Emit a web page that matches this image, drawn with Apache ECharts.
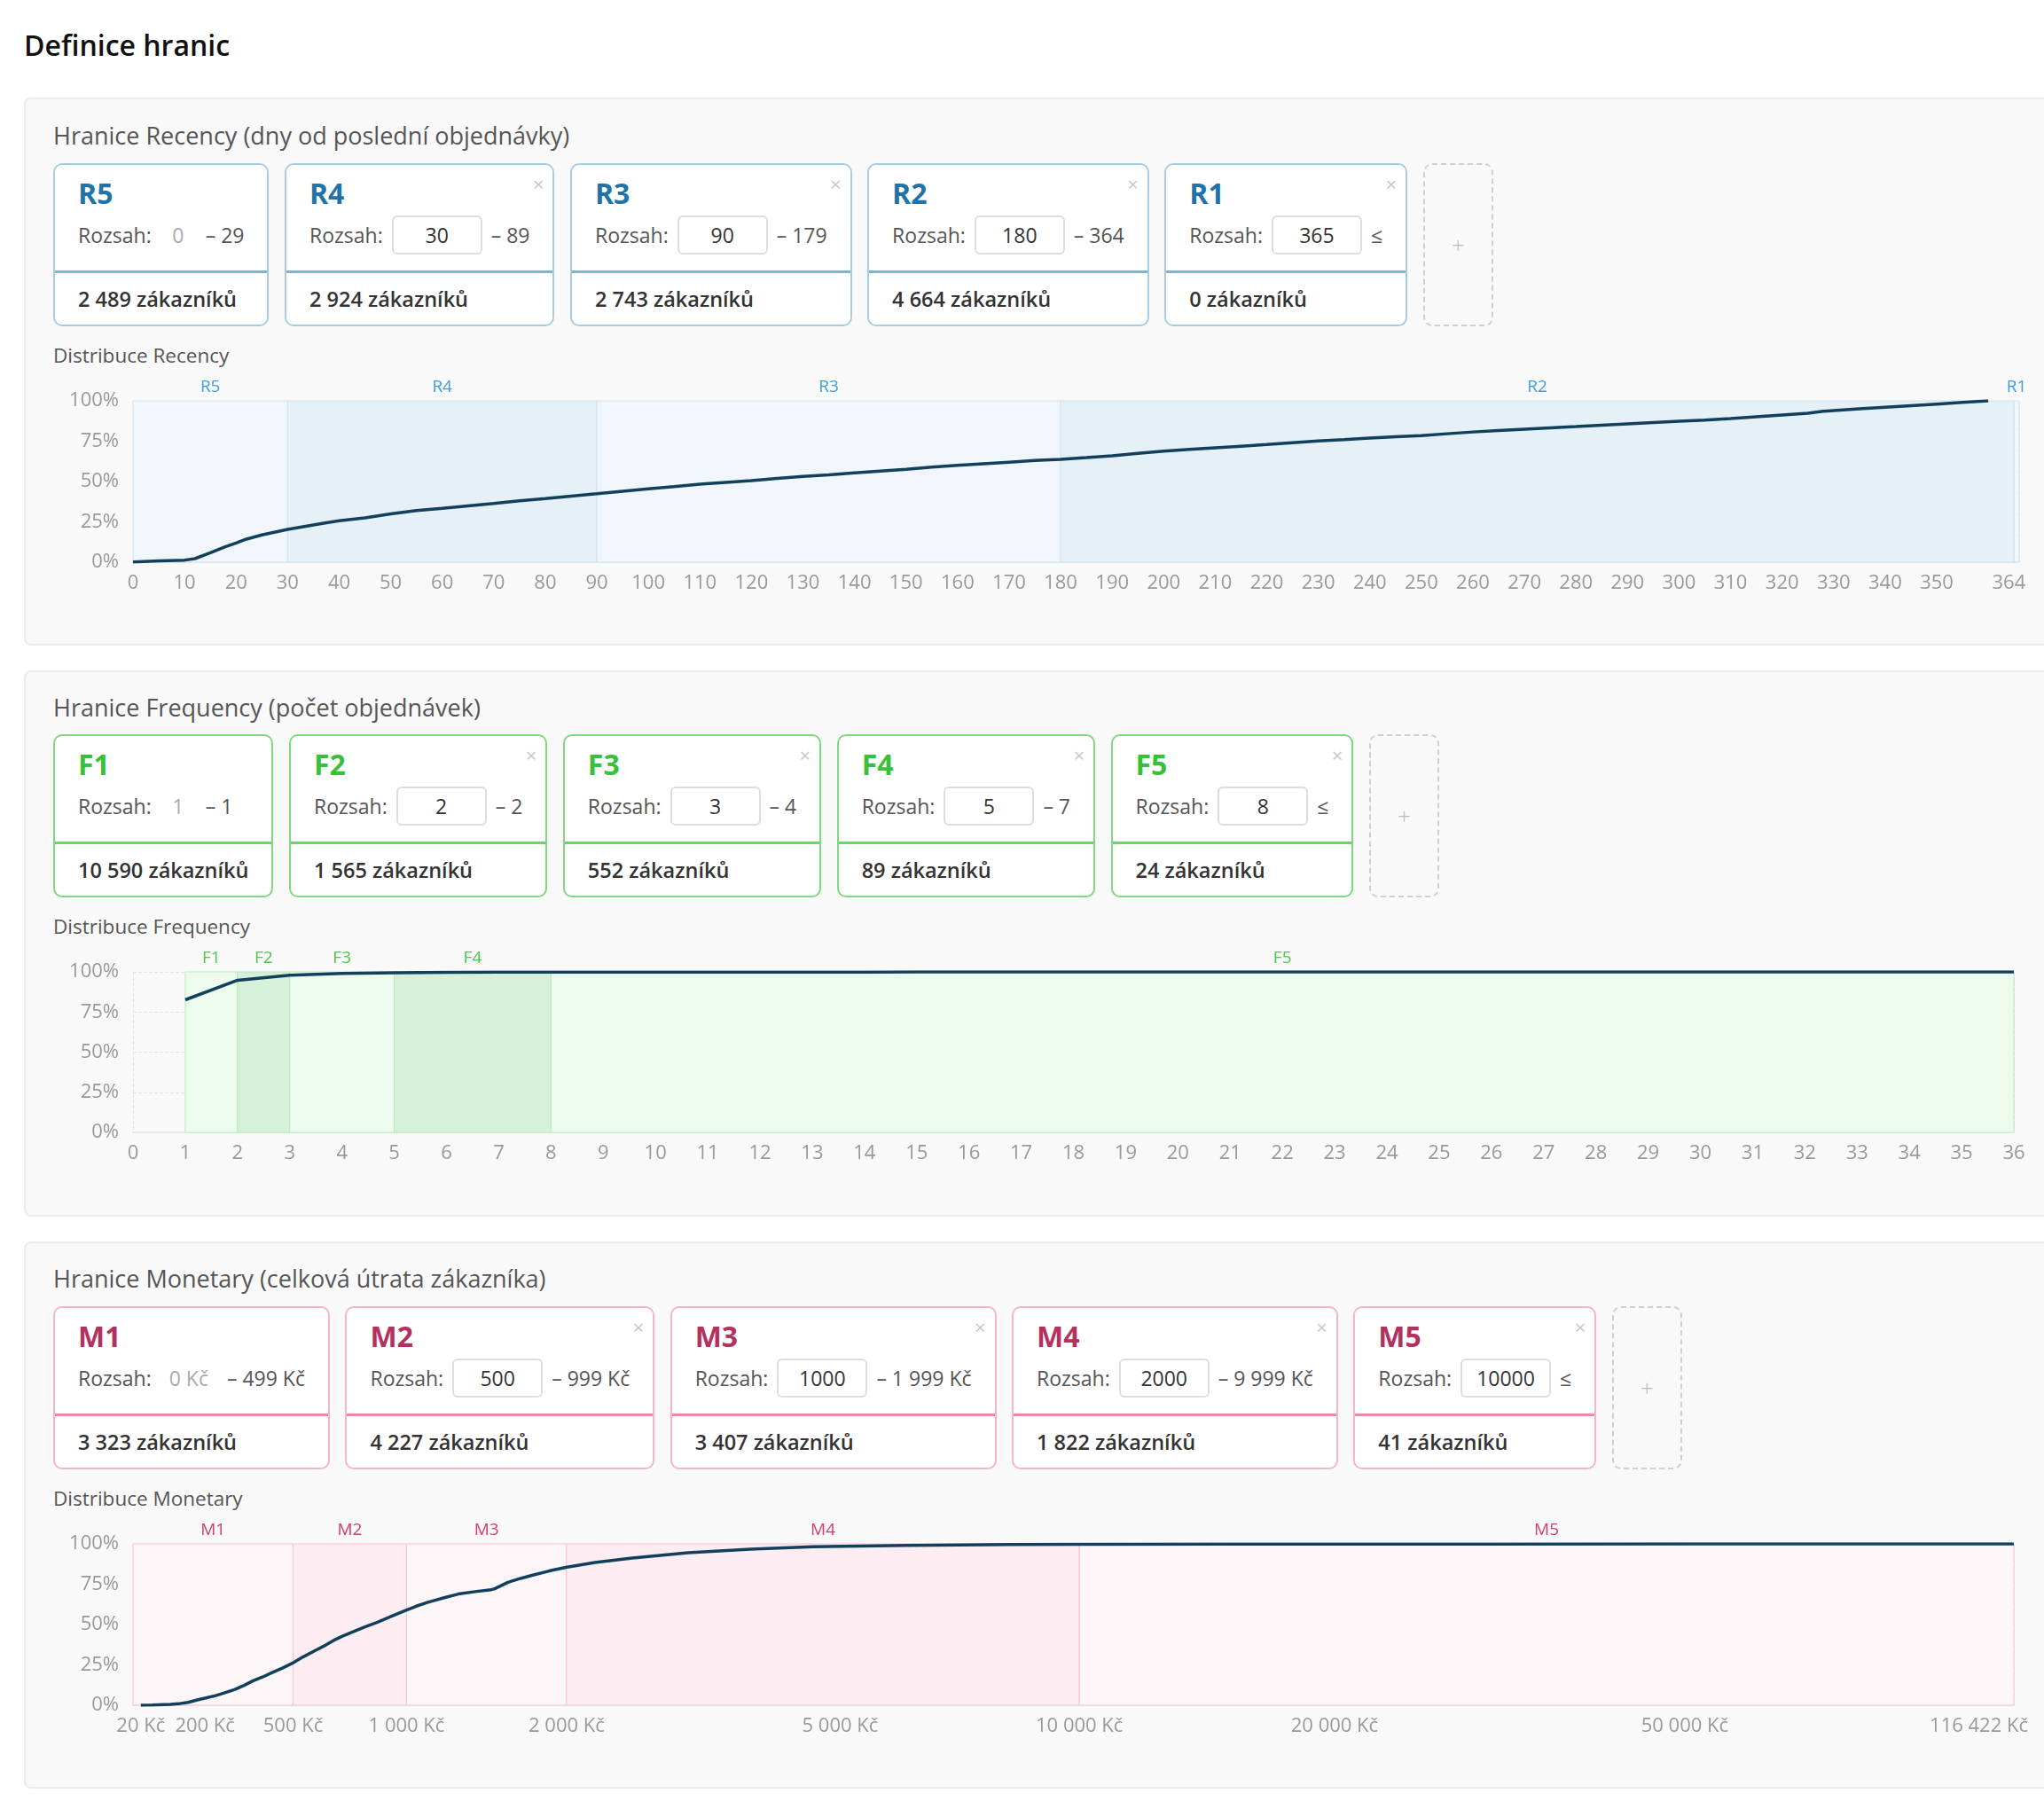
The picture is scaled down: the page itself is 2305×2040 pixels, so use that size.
<!DOCTYPE html>
<html>
<head>
<meta charset="utf-8">
<title>Definice hranic</title>
<script src="https://cdn.jsdelivr.net/npm/echarts@6/dist/echarts.min.js"></script>
<style>
	html, body { margin: 0; padding: 0; }
	body {
		position: relative;
		width: 2305px;
		height: 2040px;
		overflow: hidden;
		background: #fff;
		font-family: 'Open Sans', sans-serif;
	}
	.page-title {
		position: absolute; left: 27px; top: 30px; margin: 0;
		font-size: 32px; font-weight: 600; line-height: 42px; color: #111;
	}
	.panel {
		position: absolute; left: 27px; width: 2320px;
		background: #f9f9f9; border: 2px solid #ececec; border-radius: 8px;
		box-sizing: border-box;
	}
	.heading {
		position: absolute; left: 60px;
		font-size: 27px; line-height: 34px; color: #555;
	}
	.dist {
		position: absolute; left: 60px;
		font-size: 22.5px; line-height: 26px; color: #555;
	}
	.cards {
		position: absolute; left: 60px;
		display: flex; gap: 17.5px;
	}
	.card {
		position: relative;
		box-sizing: border-box; height: 184px;
		border: 2px solid; border-radius: 10px; background: #fff;
		display: flex; flex-direction: column;
	}
	.card .top { height: 119px; padding: 12px 26px 0; box-sizing: border-box; }
	.card .name { font-size: 32px; font-weight: 700; line-height: 40px; }
	.card .row {
		margin-top: 5px; height: 44px; display: flex; align-items: center;
		white-space: nowrap; font-size: 23px; color: #555;
	}
	.card .lo { color: #aaa; margin-left: 20px; min-width: 20px; text-align: center; }
	.card .hi { margin-left: 21px; }
	.card .inp {
		margin-left: 10px; width: 102px; height: 44px; box-sizing: border-box;
		border: 2px solid #ddd; border-radius: 6px; background: #fff;
		text-align: center; line-height: 40px; color: #333;
	}
	.card .hi2 { margin-left: 10px; }
	.card .line { height: 3px; }
	.card .bottom {
		height: 58px; line-height: 58px; padding: 0 26px;
		font-size: 23.5px; font-weight: 600; color: #333; white-space: nowrap;
	}
	.card .x {
		position: absolute; top: 6px; right: 10px;
		font-size: 22px; color: #c8c8c8; line-height: 30px;
	}
	.plus {
		box-sizing: border-box; width: 79px; height: 184px;
		border: 2px dashed #cfcfcf; border-radius: 10px;
		display: flex; align-items: center; justify-content: center;
		font-size: 26px; color: #bbb; font-weight: 300;
	}
	.chart { position: absolute; left: 0; width: 2305px; }
</style>
</head>
<body>

<h1 class="page-title">Definice hranic</h1>

<div class="panel" style="top:110px;height:618px"></div>
<div class="heading" style="top:136px">Hranice Recency (dny od poslední objednávky)</div>
<div class="cards" id="cards-r" style="top:184px"></div>
<div class="dist" style="top:388px">Distribuce Recency</div>
<div class="chart" id="chart-r" style="top:400px;height:290px"></div>

<div class="panel" style="top:756px;height:616px"></div>
<div class="heading" style="top:781px">Hranice Frequency (počet objednávek)</div>
<div class="cards" id="cards-f" style="top:828px"></div>
<div class="dist" style="top:1032px">Distribuce Frequency</div>
<div class="chart" id="chart-f" style="top:1044px;height:290px"></div>

<div class="panel" style="top:1400px;height:617px"></div>
<div class="heading" style="top:1425px">Hranice Monetary (celková útrata zákazníka)</div>
<div class="cards" id="cards-m" style="top:1473px"></div>
<div class="dist" style="top:1677px">Distribuce Monetary</div>
<div class="chart" id="chart-m" style="top:1689px;height:290px"></div>

<script>
	// ---- Recency (dny od poslední objednávky) ----
	var recencyNames = ['R5', 'R4', 'R3', 'R2', 'R1'];
	var recencyLo = [0, 30, 90, 180, 365];
	var recencyHi = [29, 89, 179, 364, null];
	var recencyCounts = [2489, 2924, 2743, 4664, 0];
	var recencyBounds = [0, 30, 90, 180, 365, 366];
	var recencyTicks = [0, 10, 20, 30, 40, 50, 60, 70, 80, 90, 100, 110, 120, 130, 140, 150, 160, 170,
		180, 190, 200, 210, 220, 230, 240, 250, 260, 270, 280, 290, 300, 310, 320, 330, 340, 350, 364];
	var recencyDays = [0, 5, 10, 12, 15, 18, 20, 22, 25, 28, 30, 33, 37, 40, 45, 50, 55, 60, 65, 70, 75,
		80, 85, 90, 95, 100, 105, 110, 115, 120, 125, 130, 135, 140, 145, 150, 155, 160, 165, 170, 175,
		180, 185, 190, 195, 200, 205, 210, 215, 220, 225, 230, 235, 240, 245, 250, 255, 260, 265, 270,
		275, 280, 285, 290, 295, 300, 305, 310, 315, 320, 325, 328, 330, 335, 340, 345, 350, 355, 360];
	var recencyPct = [0.2, 0.8, 1.3, 2.2, 5.9, 9.7, 11.9, 14.3, 16.9, 19.0, 20.3, 22.0, 24.2, 25.7, 27.5,
		29.9, 32.0, 33.4, 34.9, 36.4, 38.0, 39.4, 40.9, 42.4, 44.0, 45.5, 46.8, 48.3, 49.5, 50.6, 51.9,
		53.1, 54.1, 55.4, 56.5, 57.6, 58.9, 60.0, 61.0, 62.0, 63.0, 63.8, 64.8, 65.9, 67.5, 68.8, 69.9,
		70.9, 71.9, 72.9, 74.1, 75.2, 76.0, 76.9, 77.7, 78.5, 79.6, 80.7, 81.6, 82.4, 83.2, 84.0, 84.9,
		85.7, 86.5, 87.3, 88.1, 89.0, 90.1, 91.2, 92.3, 93.6, 94.0, 95.0, 96.0, 97.0, 98.0, 99.0, 100];

	// ---- Frequency (počet objednávek) ----
	var freqNames = ['F1', 'F2', 'F3', 'F4', 'F5'];
	var freqLo = [1, 2, 3, 5, 8];
	var freqHi = [1, 2, 4, 7, null];
	var freqCounts = [10590, 1565, 552, 89, 24];
	var freqBounds = [1, 2, 3, 5, 8, 36];
	var freqOrders = [1, 2, 3, 4, 5, 6, 7, 8, 9, 10, 11, 12, 13, 14, 15, 16, 17, 18,
		19, 20, 21, 22, 23, 24, 25, 26, 27, 28, 29, 30, 31, 32, 33, 34, 35, 36];
	var freqPct = [82.6, 94.8, 97.9, 99.1, 99.5, 99.7, 99.8, 99.82, 99.85, 99.88, 99.9, 99.91, 99.92,
		99.93, 99.94, 99.95, 99.95, 99.96, 99.96, 99.97, 99.97, 99.97, 99.98, 99.98, 99.98, 99.98,
		99.99, 99.99, 99.99, 99.99, 99.99, 99.99, 100, 100, 100, 100];

	// ---- Monetary (celková útrata, Kč) ----
	var moneyNames = ['M1', 'M2', 'M3', 'M4', 'M5'];
	var moneyLo = [0, 500, 1000, 2000, 10000];
	var moneyHi = [499, 999, 1999, 9999, null];
	var moneyCounts = [3323, 4227, 3407, 1822, 41];
	var moneyBounds = [0, 500, 1000, 2000, 10000, 116422];
	var moneyTicks = [20, 200, 500, 1000, 2000, 5000, 10000, 20000, 50000, 116422];
	var moneyValues = [20, 50, 100, 122, 150, 177, 200, 233, 260, 293, 325, 356, 390, 421, 460, 497,
		538, 587, 630, 664, 700, 744, 800, 858, 930, 1000, 1050, 1107, 1200, 1280, 1380, 1478, 1500,
		1586, 1670, 1754, 1870, 1994, 2224, 2543, 3083, 3780, 4595, 6087, 8232, 10000, 15000, 20000,
		30000, 50000, 80000, 116422];
	var moneyPct = [0, 0.1, 0.5, 0.9, 1.8, 3.3, 4.4, 6.0, 7.6, 9.7, 12.3, 15.2, 17.6, 20.1, 23.0, 26.0,
		29.9, 33.9, 37.3, 40.3, 42.8, 45.4, 48.6, 51.5, 55.4, 59.0, 61.4, 63.7, 66.6, 68.9, 70.4, 71.6,
		72.2, 76.2, 78.6, 80.6, 83.2, 85.4, 88.5, 91.2, 94.5, 96.7, 98.2, 99.1, 99.6, 99.7, 99.82,
		99.88, 99.93, 99.97, 99.99, 100];

	var themeR = {border: '#a6cde1', line: '#7db4d0', name: '#1f73a7', label: '#3d9fe0',
		light: '#f0f6fb', dark: '#e6f0f7', bandBorder: '#cfe2ed'};
	var themeF = {border: '#80d980', line: '#6bd36b', name: '#38c038', label: '#44cc44',
		light: '#edfbee', dark: '#d5f1d8', bandBorder: '#b9e9bf'};
	var themeM = {border: '#f3b6c9', line: '#e98aa8', name: '#b3315e', label: '#d43c6c',
		light: '#fdf6f9', dark: '#fcedf2', bandBorder: '#f4c3d2'};

	function fmt(n) {
		return String(n).replace(/\B(?=(\d{3})+(?!\d))/g, ' ');
	}

	// kartičky segmentů
	function renderCards(elId, names, lo, hi, counts, unit, theme) {
		var html = '';
		names.forEach(function(name, i) {
			var row = '<span>Rozsah:</span>';
			if (i === 0) {
				row += '<span class="lo">' + fmt(lo[i]) + unit + '</span>' +
					'<span class="hi">– ' + fmt(hi[i]) + unit + '</span>';
			} else if (hi[i] !== null) {
				row += '<span class="inp">' + lo[i] + '</span>' +
					'<span class="hi2">– ' + fmt(hi[i]) + unit + '</span>';
			} else {
				row += '<span class="inp">' + lo[i] + '</span><span class="hi2">≤</span>';
			}
			html += '<div class="card" style="border-color:' + theme.border + '">' +
				'<div class="top"><div class="name" style="color:' + theme.name + '">' + name + '</div>' +
				'<div class="row">' + row + '</div></div>' +
				(i > 0 ? '<span class="x">×</span>' : '') +
				'<div class="line" style="background:' + theme.line + '"></div>' +
				'<div class="bottom">' + fmt(counts[i]) + ' zákazníků</div></div>';
		});
		html += '<div class="plus">+</div>';
		document.getElementById(elId).innerHTML = html;
	}

	function drow(elId, cfg) {
		var myChart = echarts.init(document.getElementById(elId), null, {renderer: 'canvas'});
		var bands = [];
		cfg.names.forEach(function(name, i) {
			bands.push([
				{
					name: name,
					xAxis: cfg.bounds[i],
					itemStyle: {
						color: i % 2 ? cfg.theme.dark : cfg.theme.light,
						borderColor: cfg.theme.bandBorder,
						borderWidth: 1
					}
				},
				{xAxis: cfg.bounds[i + 1]}
			]);
		});
		var xLabel = {
			color: '#999',
			fontSize: 22,
			margin: 13,
			fontFamily: 'Open Sans'
		};
		if (cfg.ticks) xLabel.customValues = cfg.ticks;
		if (cfg.formatter) xLabel.formatter = cfg.formatter;
		if (cfg.alignMax) {
			xLabel.alignMaxLabel = 'right';
			xLabel.rich = {last: {color: '#999', fontSize: 22, padding: [0, -16, 0, 0]}};
		}
		var options = {
			animation: false,
			textStyle: {fontFamily: 'Open Sans'},
			grid: {left: 150, top: 52, width: cfg.width, height: cfg.height},
			xAxis: {
				type: 'value',
				min: cfg.min,
				max: cfg.max,
				interval: cfg.interval,
				axisLine: {show: true, lineStyle: {color: '#e8e8e8', width: 2}},
				axisTick: {show: false},
				splitLine: {show: true, lineStyle: {color: '#e4e4e4', type: 'dashed'}},
				axisLabel: xLabel
			},
			yAxis: {
				type: 'value',
				min: 0,
				max: 100,
				interval: 25,
				axisLine: {show: false},
				axisTick: {show: false},
				splitLine: {show: true, lineStyle: {color: '#e4e4e4', type: 'dashed'}},
				axisLabel: {color: '#999', fontSize: 22, margin: 16, formatter: '{value}%'}
			},
			series: [{
				type: 'line',
				data: cfg.data,
				symbol: 'none',
				lineStyle: {color: '#113f5c', width: 3.5},
				z: 5,
				markArea: {
					silent: true,
					label: {
						show: true,
						position: 'top',
						distance: 5,
						fontSize: 19,
						color: cfg.theme.label,
						fontFamily: 'Open Sans'
					},
					data: bands
				}
			}]
		};
		myChart.setOption(options);
	}

	function pairs(xs, ys, tx) {
		return xs.map(function(x, i) {
			return [tx ? tx(x) : x, ys[i]];
		});
	}

	// osa útraty: log10(Kč + 1000)
	function tx(v) {
		return Math.log10(v + 1000);
	}

	renderCards('cards-r', recencyNames, recencyLo, recencyHi, recencyCounts, '', themeR);
	renderCards('cards-f', freqNames, freqLo, freqHi, freqCounts, '', themeF);
	renderCards('cards-m', moneyNames, moneyLo, moneyHi, moneyCounts, ' Kč', themeM);

	drow('chart-r', {
		names: recencyNames, bounds: recencyBounds, theme: themeR,
		min: 0, max: 366, ticks: recencyTicks,
		width: 2127, height: 182,
		data: pairs(recencyDays, recencyPct)
	});
	drow('chart-f', {
		names: freqNames, bounds: freqBounds, theme: themeF,
		min: 0, max: 36, interval: 1,
		width: 2121, height: 181,
		data: pairs(freqOrders, freqPct)
	});
	var moneyMax = moneyTicks[moneyTicks.length - 1];
	drow('chart-m', {
		names: moneyNames, bounds: moneyBounds.map(tx), theme: themeM,
		min: tx(0), max: tx(moneyMax), ticks: moneyTicks.map(tx), alignMax: true,
		formatter: function(val) {
			var v = Math.round(Math.pow(10, val) - 1000);
			var s = fmt(v) + ' Kč';
			return v === moneyMax ? '{last|' + s + '}' : s;
		},
		width: 2121, height: 182,
		data: pairs(moneyValues, moneyPct, tx)
	});
</script>
</body>
</html>
